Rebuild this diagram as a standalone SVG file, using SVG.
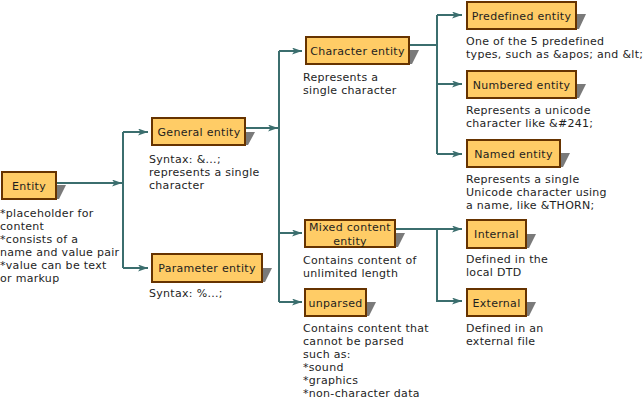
<svg xmlns="http://www.w3.org/2000/svg" width="644" height="400" viewBox="0 0 644 400">
<style>
text{font-family:"DejaVu Sans","Liberation Sans",sans-serif;font-size:11px;letter-spacing:0.3px;fill:#1e1e1e}
.lbl{text-anchor:middle}
.box{fill:#FFCC66;stroke:#663300;stroke-width:2}
.sh{fill:#7a7a7a}
.con{fill:none;stroke:#3B6E6E;stroke-width:2}
</style>
<defs>
<marker id="ah" markerUnits="userSpaceOnUse" markerWidth="11" markerHeight="8" refX="10" refY="3.5" orient="auto">
<path d="M0,0 L10,3.5 L0,7 L2.5,3.5 z" fill="#3B6E6E"/>
</marker>
</defs>
<rect width="644" height="400" fill="#fff"/>
<g id="connectors">
<path class="con" d="M57,183 H122" marker-end="url(#ah)"/>
<path class="con" d="M123,132 V268"/>
<path class="con" d="M123,132 H148" marker-end="url(#ah)"/>
<path class="con" d="M123,268 H148" marker-end="url(#ah)"/>
<path class="con" d="M246,128 H278" marker-end="url(#ah)"/>
<path class="con" d="M279,51 V302"/>
<path class="con" d="M279,51 H302" marker-end="url(#ah)"/>
<path class="con" d="M279,233 H302" marker-end="url(#ah)"/>
<path class="con" d="M279,302 H302" marker-end="url(#ah)"/>
<path class="con" d="M410,45 H437"/>
<path class="con" d="M437,15 V154"/>
<path class="con" d="M437,15 H462" marker-end="url(#ah)"/>
<path class="con" d="M437,84 H462" marker-end="url(#ah)"/>
<path class="con" d="M437,154 H462" marker-end="url(#ah)"/>
<path class="con" d="M396,229 H462" marker-end="url(#ah)"/>
<path class="con" d="M437,229 V301 H462" marker-end="url(#ah)"/>
</g>
<g id="entity">
<polygon class="sh" points="57,185 66,185 59,199 57,199"/>
<rect class="box" x="2" y="172" width="54" height="27"/>
<text class="lbl" x="29" y="190">Entity</text>
<text x="0" y="217">*placeholder for</text>
<text x="0" y="230">content</text>
<text x="0" y="243">*consists of a</text>
<text x="0" y="256">name and value pair</text>
<text x="0" y="269">*value can be text</text>
<text x="0" y="282">or markup</text>
</g>
<g id="general-entity">
<polygon class="sh" points="246,132 255,132 248,145 246,145"/>
<rect class="box" x="152" y="118" width="93" height="27"/>
<text class="lbl" x="199" y="136">General entity</text>
<text x="149" y="163">Syntax: &amp;...;</text>
<text x="149" y="176">represents a single</text>
<text x="149" y="189">character</text>
</g>
<g id="parameter-entity">
<polygon class="sh" points="263,268 272,268 265,282 263,282"/>
<rect class="box" x="152" y="254" width="110" height="28"/>
<text class="lbl" x="207" y="272">Parameter entity</text>
<text x="149" y="297">Syntax: %...;</text>
</g>
<g id="character-entity">
<polygon class="sh" points="410,50 419,50 412,64 410,64"/>
<rect class="box" x="306" y="37" width="103" height="27"/>
<text class="lbl" x="357.5" y="55">Character entity</text>
<text x="303" y="81">Represents a</text>
<text x="303" y="94">single character</text>
</g>
<g id="predefined-entity">
<polygon class="sh" points="577,14 586,14 579,29 577,29"/>
<rect class="box" x="467" y="2" width="109" height="27"/>
<text class="lbl" x="521.5" y="20">Predefined entity</text>
<text x="466" y="45">One of the 5 predefined</text>
<text x="466" y="58">types, such as &amp;apos; and &amp;lt;</text>
</g>
<g id="numbered-entity">
<polygon class="sh" points="577,84 586,84 579,98 577,98"/>
<rect class="box" x="467" y="71" width="109" height="27"/>
<text class="lbl" x="521.5" y="89">Numbered entity</text>
<text x="466" y="114">Represents a unicode</text>
<text x="466" y="127">character like &amp;#241;</text>
</g>
<g id="named-entity">
<polygon class="sh" points="561,153 570,153 563,167 561,167"/>
<rect class="box" x="467" y="140" width="93" height="27"/>
<text class="lbl" x="513.5" y="158">Named entity</text>
<text x="466" y="183">Represents a single</text>
<text x="466" y="196">Unicode character using</text>
<text x="466" y="209">a name, like &amp;THORN;</text>
</g>
<g id="mixed-content-entity">
<polygon class="sh" points="396,233 405,233 398,247 396,247"/>
<rect class="box" x="305" y="220" width="90" height="27"/>
<text class="lbl" x="350" y="231">Mixed content</text>
<text class="lbl" x="350" y="245">entity</text>
<text x="303" y="264">Contains content of</text>
<text x="303" y="277">unlimited length</text>
</g>
<g id="unparsed">
<polygon class="sh" points="367,302 376,302 369,316 367,316"/>
<rect class="box" x="305" y="289" width="61" height="27"/>
<text class="lbl" x="335.5" y="307">unparsed</text>
<text x="303" y="332">Contains content that</text>
<text x="303" y="345">cannot be parsed</text>
<text x="303" y="358">such as:</text>
<text x="303" y="371">*sound</text>
<text x="303" y="384">*graphics</text>
<text x="303" y="397">*non-character data</text>
</g>
<g id="internal">
<polygon class="sh" points="527,234 536,234 529,248 527,248"/>
<rect class="box" x="467" y="220" width="59" height="28"/>
<text class="lbl" x="496.5" y="238">Internal</text>
<text x="466" y="263">Defined in the</text>
<text x="466" y="276">local DTD</text>
</g>
<g id="external">
<polygon class="sh" points="527,302 536,302 529,316 527,316"/>
<rect class="box" x="467" y="289" width="59" height="27"/>
<text class="lbl" x="496.5" y="307">External</text>
<text x="466" y="332">Defined in an</text>
<text x="466" y="345">external file</text>
</g>
</svg>
